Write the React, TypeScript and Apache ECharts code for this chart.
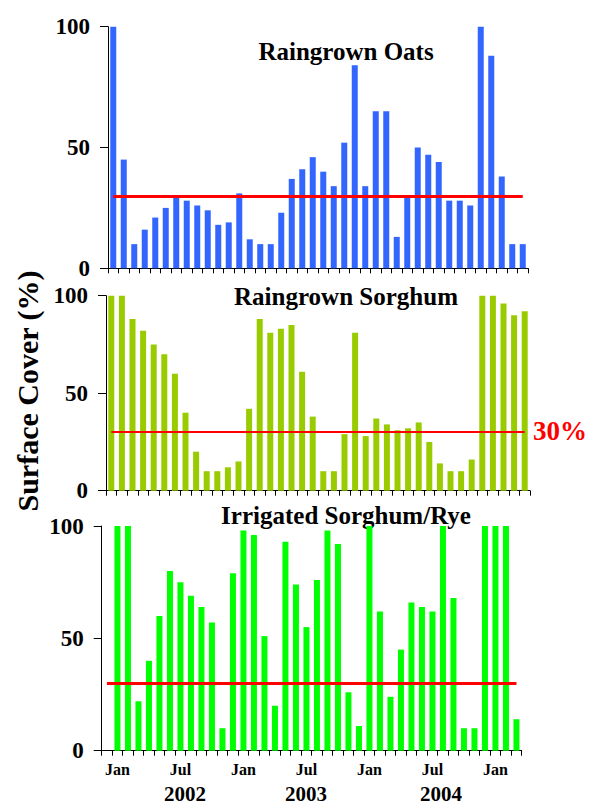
import React, { useEffect, useRef } from "react";
import * as echarts from "echarts";

const CATEGORIES = [
  "Dec 2001",
  "Jan 2002", "Feb 2002", "Mar 2002", "Apr 2002", "May 2002", "Jun 2002",
  "Jul 2002", "Aug 2002", "Sep 2002", "Oct 2002", "Nov 2002", "Dec 2002",
  "Jan 2003", "Feb 2003", "Mar 2003", "Apr 2003", "May 2003", "Jun 2003",
  "Jul 2003", "Aug 2003", "Sep 2003", "Oct 2003", "Nov 2003", "Dec 2003",
  "Jan 2004", "Feb 2004", "Mar 2004", "Apr 2004", "May 2004", "Jun 2004",
  "Jul 2004", "Aug 2004", "Sep 2004", "Oct 2004", "Nov 2004", "Dec 2004",
  "Jan 2005", "Feb 2005", "Mar 2005",
];

const RAINGROWN_OATS = [
  100, 45, 10, 16, 21, 25, 30, 28, 26, 24, 18, 19, 31, 12, 10, 10, 23, 37, 41, 46,
  40, 34, 52, 84, 34, 65, 65, 13, 30, 50, 47, 44, 28, 28, 26, 100, 88, 38, 10, 10,
];

const RAINGROWN_SORGHUM = [
  100, 100, 88, 82, 75, 70, 60, 40, 20, 10, 10, 12, 15, 42, 88, 81, 83, 85, 61, 38,
  10, 10, 29, 81, 28, 37, 34, 31, 32, 35, 25, 14, 10, 10, 16, 100, 100, 96, 90, 92,
];

const IRRIGATED_SORGHUM_RYE = [
  null, 100, 100, 22, 40, 60, 80, 75, 69, 64, 57, 10, 79, 98, 96, 51, 20, 93, 74, 55,
  76, 98, 92, 26, 11, 100, 62, 24, 45, 66, 64, 62, 100, 68, 10, 10, 100, 100, 100, 14,
];

const PANEL_TITLES = ["Raingrown Oats", "Raingrown Sorghum", "Irrigated Sorghum/Rye"];
const Y_TICKS = [0, 50, 100];
const THRESHOLD = 30;
const THRESHOLD_LABEL = "30%";
const YEAR_LABELS = ["2002", "2003", "2004"];
const SHOWN_MONTHS = ["Jan", "Jul"];
const Y_TITLE = "Surface Cover (%)";

const FONT = "'Liberation Serif', 'Times New Roman', serif";

export default function App() {
  const ref = useRef<HTMLDivElement>(null);

  useEffect(() => {
    if (!ref.current) return;
    const chart = echarts.init(ref.current, undefined, { renderer: "svg" });

    const grids = [
      { left: 108, top: 26.7, width: 420, height: 241.6 },
      { left: 106, top: 295.7, width: 424, height: 195 },
      { left: 101.7, top: 526, width: 420, height: 224.7 },
    ];
    const colors = ["#3366FF", "#99CC00", "#00FF00"];
    const lineWidths = [3, 2, 3];
    const seriesData = [RAINGROWN_OATS, RAINGROWN_SORGHUM, IRRIGATED_SORGHUM_RYE];

    const xAxes = grids.map((_, i) => ({
      type: "category" as const,
      gridIndex: i,
      data: CATEGORIES,
      boundaryGap: true,
      axisLine: { show: true, lineStyle: { color: "#000", width: 1 } },
      axisTick: { show: true, interval: 0, length: 5, alignWithLabel: false, lineStyle: { color: "#000" } },
      axisLabel: {
        show: i === 2,
        interval: 0,
        margin: 11,
        color: "#000",
        fontFamily: FONT,
        fontWeight: "bold" as const,
        fontSize: 16,
        formatter: (v: string) => {
          const m = v.split(" ")[0];
          return SHOWN_MONTHS.includes(m) ? m : "";
        },
      },
      splitLine: { show: false },
    }));

    const yAxes = grids.map((_, i) => ({
      type: "value" as const,
      gridIndex: i,
      min: Y_TICKS[0],
      max: Y_TICKS[Y_TICKS.length - 1],
      interval: Y_TICKS[1] - Y_TICKS[0],
      axisLine: { show: true, lineStyle: { color: "#000", width: 1 } },
      axisTick: { show: true, length: 8, lineStyle: { color: "#000" } },
      axisLabel: {
        margin: 18,
        color: "#000",
        fontFamily: FONT,
        fontWeight: "bold" as const,
        fontSize: 23,
      },
      splitLine: { show: false },
    }));

    const series = seriesData.map((data, i) => ({
      type: "bar" as const,
      xAxisIndex: i,
      yAxisIndex: i,
      data,
      barWidth: 6,
      itemStyle: { color: colors[i] },
      markLine: {
        silent: true,
        symbol: "none",
        label: { show: false },
        lineStyle: { color: "#FF0000", width: lineWidths[i], type: "solid" as const },
        data: [
          [
            { coord: [0, THRESHOLD] },
            { coord: [CATEGORIES.length - 1, THRESHOLD] },
          ],
        ],
      },
    }));

    const titleStyle = {
      fontFamily: FONT,
      fontWeight: "bold" as const,
      fontSize: 25,
      fill: "#000",
      align: "center" as const,
      verticalAlign: "middle" as const,
    };
    const titleYs = [51, 296, 515];
    const yearXs = [185, 306, 441];

    const graphic: any[] = [
      ...PANEL_TITLES.map((t, i) => ({
        type: "text",
        x: 346,
        y: titleYs[i],
        style: { ...titleStyle, text: t },
      })),
      ...YEAR_LABELS.map((t, i) => ({
        type: "text",
        x: yearXs[i],
        y: 794,
        style: {
          text: t,
          fontFamily: FONT,
          fontWeight: "bold",
          fontSize: 21,
          fill: "#000",
          align: "center",
          verticalAlign: "middle",
        },
      })),
      {
        type: "text",
        x: 533,
        y: 431,
        style: {
          text: THRESHOLD_LABEL,
          fontFamily: FONT,
          fontWeight: "bold",
          fontSize: 27,
          fill: "#FF0000",
          align: "left",
          verticalAlign: "middle",
        },
      },
      {
        type: "text",
        x: 27,
        y: 391,
        rotation: Math.PI / 2,
        style: {
          text: Y_TITLE,
          fontFamily: FONT,
          fontWeight: "bold",
          fontSize: 30,
          fill: "#000",
          align: "center",
          verticalAlign: "middle",
        },
      },
    ];

    chart.setOption({
      animation: false,
      backgroundColor: "#fff",
      grid: grids,
      xAxis: xAxes,
      yAxis: yAxes,
      series,
      graphic,
    });

    return () => chart.dispose();
  }, []);

  return (
    <div
      ref={ref}
      style={{ position: "absolute", left: 0, top: 0, width: 592, height: 805 }}
    />
  );
}
